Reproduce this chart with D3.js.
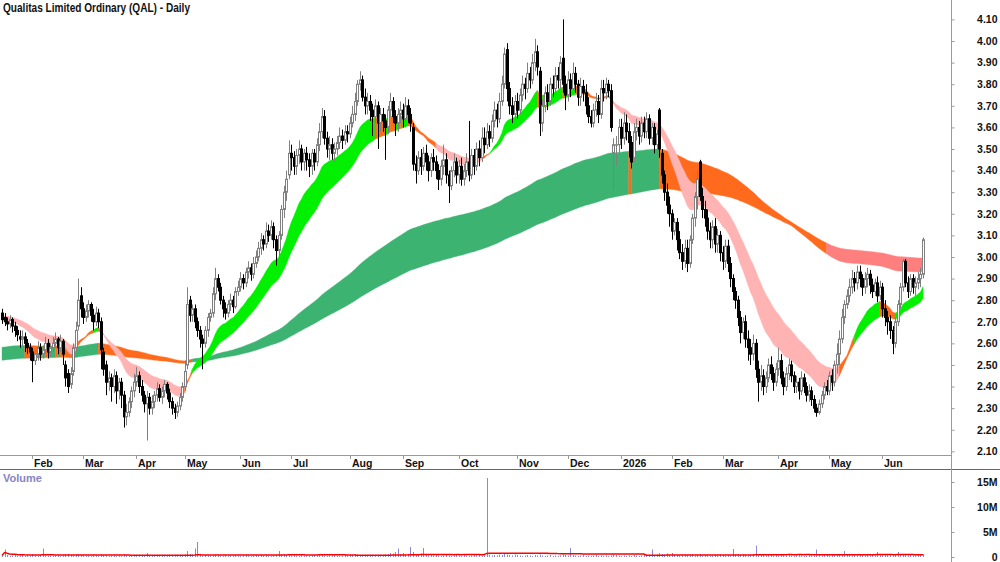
<!DOCTYPE html>
<html><head><meta charset="utf-8">
<script src="https://cdn.jsdelivr.net/npm/d3@7"></script>
<style>body{margin:0;background:#fff}svg{display:block}text{font-family:"Liberation Sans",Arial,sans-serif;font-weight:bold}</style>
</head><body><svg id="c" width="1000" height="562"></svg>
<script>
const title = "Qualitas Limited Ordinary (QAL) - Daily";
const startDate = "2025-01-15", endDate = "2026-06-24";
const holidays = ["2025-01-27","2025-04-18","2025-04-21","2025-04-25","2025-06-09","2025-12-25","2025-12-26","2026-01-01","2026-01-26","2026-04-03","2026-04-06","2026-06-08"];
const priceTicks = ["2.10","2.20","2.30","2.40","2.50","2.60","2.70","2.80","2.90","3.00","3.10","3.20","3.30","3.40","3.50","3.60","3.70","3.80","3.90","4.00","4.10"];
const volTicks = [0, 5, 10, 15];
const volTickLabels = ["0","5M","10M","15M"];
const shortPeriods = [18,20,23,26,29,33];
const shortSeed = [2.70,2.705,2.71,2.715,2.72,2.73];
const longPeriods = [150,165,180,200,220,250];
const longSeed = [2.58,2.57,2.56,2.55,2.54,2.52];
const volMAPeriod = 63;

const opens = [
2.74,2.72,2.70,2.69,2.71,2.68,2.66,2.63,2.62,2.63,
2.60,2.58,2.56,2.52,2.55,2.58,2.55,2.57,2.60,2.56,
2.58,2.60,2.62,2.58,2.61,2.50,2.46,2.41,2.47,2.58,
2.68,2.82,2.76,2.72,2.75,2.78,2.73,2.70,2.74,2.70,
2.56,2.50,2.42,2.44,2.40,2.45,2.38,2.42,2.36,2.26,
2.28,2.33,2.38,2.42,2.45,2.40,2.36,2.32,2.35,2.30,
2.33,2.36,2.39,2.35,2.38,2.41,2.37,2.33,2.30,2.28,
2.31,2.35,2.40,2.50,2.80,2.73,2.76,2.70,2.66,2.62,
2.60,2.66,2.72,2.74,2.83,2.90,2.86,2.80,2.76,2.74,
2.78,2.80,2.77,2.84,2.86,2.90,2.88,2.93,2.95,2.92,
2.97,3.00,3.04,3.08,3.06,3.12,3.10,3.14,3.08,3.03,
3.10,3.22,3.30,3.38,3.48,3.46,3.42,3.47,3.50,3.44,
3.48,3.45,3.42,3.48,3.44,3.52,3.58,3.65,3.55,3.50,
3.52,3.48,3.50,3.53,3.56,3.54,3.58,3.57,3.62,3.66,
3.72,3.80,3.82,3.74,3.70,3.72,3.68,3.65,3.70,3.62,
3.66,3.63,3.60,3.68,3.72,3.65,3.62,3.66,3.68,3.64,
3.70,3.66,3.60,3.43,3.40,3.46,3.42,3.48,3.44,3.40,
3.46,3.44,3.40,3.36,3.42,3.45,3.38,3.33,3.40,3.44,
3.38,3.42,3.36,3.40,3.44,3.38,3.47,3.42,3.50,3.46,
3.55,3.52,3.58,3.55,3.63,3.68,3.64,3.72,3.80,3.96,
3.78,3.70,3.66,3.72,3.68,3.75,3.80,3.78,3.85,3.82,
3.90,3.95,3.86,3.62,3.70,3.76,3.72,3.80,3.78,3.84,
3.82,3.92,3.80,3.75,3.82,3.78,3.85,3.80,3.74,3.79,
3.76,3.70,3.65,3.62,3.68,3.72,3.66,3.78,3.76,3.80,
3.77,3.48,3.52,3.52,3.60,3.55,3.62,3.58,3.53,3.46,
3.58,3.60,3.56,3.62,3.58,3.64,3.55,3.60,3.52,3.68,
3.48,3.38,3.30,3.24,3.20,3.12,3.16,3.08,3.02,2.98,
3.04,2.97,3.08,3.18,3.28,3.44,3.28,3.22,3.18,3.12,
3.08,3.14,3.06,3.10,3.02,2.98,3.05,2.97,2.90,2.84,
2.80,2.72,2.65,2.70,2.62,2.58,2.55,2.60,2.48,2.42,
2.45,2.40,2.44,2.50,2.46,2.42,2.48,2.52,2.44,2.40,
2.46,2.50,2.45,2.40,2.42,2.38,2.44,2.40,2.36,2.38,
2.34,2.30,2.28,2.32,2.36,2.40,2.38,2.45,2.42,2.50,
2.55,2.62,2.72,2.78,2.82,2.86,2.90,2.88,2.93,2.90,
2.86,2.90,2.92,2.87,2.84,2.88,2.82,2.86,2.76,2.72,
2.70,2.66,2.60,2.70,2.78,2.86,2.98,2.88,2.84,2.90,
2.86,2.88,2.90,2.92];

const highs = [
2.76,2.74,2.72,2.73,2.72,2.70,2.68,2.66,2.66,2.65,
2.62,2.60,2.58,2.57,2.61,2.60,2.59,2.63,2.62,2.60,
2.63,2.65,2.63,2.64,2.62,2.52,2.48,2.49,2.60,2.70,
2.90,2.86,2.79,2.78,2.80,2.79,2.76,2.77,2.76,2.72,
2.58,2.52,2.47,2.46,2.48,2.47,2.44,2.44,2.38,2.32,
2.35,2.40,2.46,2.49,2.47,2.43,2.38,2.38,2.37,2.36,
2.38,2.42,2.41,2.40,2.43,2.42,2.39,2.35,2.32,2.33,
2.37,2.42,2.52,2.86,2.82,2.78,2.78,2.72,2.68,2.64,
2.68,2.74,2.76,2.86,2.95,2.92,2.88,2.82,2.79,2.80,
2.83,2.82,2.86,2.89,2.93,2.92,2.95,2.98,2.97,3.00,
3.03,3.07,3.11,3.10,3.16,3.15,3.17,3.16,3.10,3.12,
3.24,3.33,3.40,3.54,3.52,3.49,3.50,3.54,3.52,3.50,
3.51,3.48,3.50,3.50,3.55,3.62,3.69,3.68,3.58,3.56,
3.55,3.53,3.56,3.60,3.59,3.61,3.61,3.65,3.70,3.76,
3.82,3.86,3.84,3.78,3.76,3.75,3.71,3.73,3.72,3.69,
3.69,3.66,3.70,3.76,3.74,3.68,3.69,3.72,3.71,3.74,
3.73,3.69,3.62,3.47,3.49,3.50,3.51,3.52,3.47,3.48,
3.50,3.47,3.43,3.45,3.52,3.48,3.40,3.42,3.48,3.46,
3.45,3.46,3.43,3.48,3.63,3.50,3.50,3.53,3.54,3.60,
3.60,3.62,3.61,3.66,3.72,3.71,3.76,3.84,3.97,3.99,
3.81,3.74,3.75,3.76,3.78,3.84,3.83,3.90,3.88,3.94,
4.01,3.98,3.88,3.73,3.79,3.80,3.83,3.84,3.88,3.88,
3.93,4.10,3.84,3.86,3.85,3.90,3.88,3.82,3.83,3.82,
3.80,3.74,3.68,3.71,3.76,3.75,3.82,3.82,3.83,3.82,
3.80,3.55,3.56,3.64,3.64,3.67,3.66,3.62,3.56,3.62,
3.64,3.63,3.65,3.65,3.67,3.66,3.62,3.62,3.59,3.69,
3.50,3.40,3.34,3.28,3.22,3.18,3.18,3.12,3.06,3.08,
3.08,3.10,3.20,3.30,3.40,3.45,3.32,3.26,3.22,3.16,
3.17,3.18,3.13,3.12,3.05,3.08,3.08,3.00,2.92,2.86,
2.82,2.75,2.72,2.73,2.66,2.62,2.64,2.62,2.52,2.50,
2.48,2.47,2.53,2.54,2.49,2.51,2.58,2.55,2.47,2.49,
2.53,2.52,2.47,2.45,2.44,2.47,2.46,2.42,2.41,2.40,
2.36,2.32,2.34,2.38,2.42,2.43,2.47,2.48,2.52,2.60,
2.66,2.76,2.80,2.85,2.90,2.94,2.93,2.96,2.96,2.92,
2.93,2.95,2.94,2.90,2.90,2.91,2.89,2.88,2.80,2.75,
2.73,2.68,2.72,2.80,2.88,2.99,2.99,2.91,2.92,2.92,
2.91,2.93,2.95,3.09];

const lows = [
2.69,2.68,2.66,2.67,2.65,2.63,2.61,2.58,2.59,2.56,
2.55,2.52,2.42,2.50,2.52,2.52,2.53,2.55,2.53,2.54,
2.56,2.58,2.55,2.56,2.50,2.40,2.37,2.39,2.45,2.56,
2.66,2.72,2.69,2.70,2.72,2.70,2.66,2.68,2.67,2.48,
2.45,2.36,2.38,2.33,2.37,2.32,2.34,2.30,2.21,2.22,
2.26,2.30,2.35,2.40,2.37,2.33,2.28,2.15,2.27,2.27,
2.30,2.33,2.33,2.32,2.35,2.34,2.30,2.27,2.25,2.26,
2.29,2.33,2.38,2.48,2.70,2.70,2.67,2.63,2.58,2.48,
2.58,2.63,2.70,2.72,2.80,2.84,2.78,2.72,2.71,2.72,
2.75,2.74,2.76,2.82,2.84,2.85,2.86,2.90,2.89,2.90,
2.95,2.98,3.01,3.03,3.04,3.07,3.08,3.04,2.96,3.00,
3.08,3.18,3.26,3.36,3.40,3.38,3.38,3.43,3.40,3.40,
3.40,3.37,3.38,3.40,3.42,3.49,3.55,3.52,3.46,3.45,
3.45,3.44,3.47,3.50,3.50,3.52,3.53,3.55,3.60,3.63,
3.70,3.77,3.72,3.66,3.66,3.63,3.56,3.62,3.50,3.58,
3.58,3.45,3.57,3.65,3.62,3.56,3.58,3.62,3.60,3.60,
3.62,3.58,3.40,3.34,3.38,3.38,3.40,3.40,3.35,3.37,
3.40,3.36,3.31,3.33,3.38,3.34,3.25,3.31,3.37,3.34,
3.34,3.33,3.33,3.37,3.35,3.36,3.38,3.40,3.42,3.44,
3.48,3.50,3.51,3.53,3.60,3.60,3.62,3.70,3.78,3.72,
3.66,3.62,3.63,3.64,3.66,3.72,3.73,3.76,3.78,3.80,
3.86,3.84,3.56,3.58,3.67,3.68,3.70,3.74,3.75,3.78,
3.78,3.76,3.68,3.72,3.74,3.76,3.76,3.70,3.70,3.72,
3.66,3.62,3.60,3.60,3.65,3.62,3.64,3.72,3.73,3.74,
3.58,3.31,3.42,3.48,3.50,3.52,3.54,3.46,3.41,3.44,
3.54,3.52,3.53,3.55,3.55,3.52,3.52,3.48,3.47,3.46,
3.34,3.26,3.20,3.14,3.08,3.10,3.03,2.99,2.94,2.95,
2.93,2.95,3.06,3.14,3.22,3.26,3.18,3.14,3.08,3.04,
3.04,3.02,3.02,2.98,2.94,2.95,2.93,2.86,2.80,2.76,
2.68,2.60,2.62,2.58,2.52,2.50,2.52,2.44,2.33,2.38,
2.36,2.37,2.42,2.43,2.38,2.40,2.45,2.41,2.36,2.38,
2.43,2.42,2.37,2.37,2.34,2.36,2.37,2.33,2.33,2.31,
2.28,2.26,2.27,2.30,2.34,2.36,2.36,2.38,2.40,2.46,
2.50,2.60,2.69,2.76,2.79,2.83,2.84,2.85,2.86,2.82,
2.83,2.86,2.83,2.81,2.82,2.79,2.80,2.72,2.68,2.64,
2.62,2.55,2.58,2.68,2.76,2.84,2.86,2.81,2.82,2.83,
2.82,2.85,2.86,2.90];

const closes = [
2.71,2.70,2.69,2.71,2.68,2.66,2.64,2.62,2.63,2.60,
2.58,2.56,2.52,2.55,2.58,2.55,2.57,2.60,2.56,2.58,
2.60,2.62,2.58,2.61,2.55,2.44,2.40,2.46,2.58,2.66,
2.80,2.76,2.72,2.75,2.78,2.73,2.70,2.74,2.70,2.57,
2.48,2.42,2.44,2.40,2.45,2.38,2.42,2.36,2.26,2.28,
2.33,2.38,2.42,2.45,2.40,2.36,2.32,2.35,2.30,2.33,
2.36,2.39,2.35,2.38,2.41,2.37,2.33,2.30,2.28,2.31,
2.35,2.40,2.47,2.78,2.73,2.76,2.70,2.66,2.62,2.60,
2.66,2.72,2.74,2.83,2.90,2.86,2.80,2.76,2.74,2.78,
2.80,2.77,2.84,2.86,2.90,2.88,2.93,2.95,2.92,2.97,
3.00,3.04,3.08,3.06,3.12,3.10,3.14,3.08,3.03,3.10,
3.22,3.30,3.36,3.48,3.46,3.42,3.47,3.50,3.44,3.48,
3.45,3.42,3.48,3.44,3.52,3.58,3.65,3.55,3.50,3.52,
3.48,3.50,3.53,3.56,3.54,3.58,3.57,3.62,3.66,3.72,
3.80,3.82,3.74,3.70,3.72,3.68,3.65,3.70,3.62,3.66,
3.63,3.60,3.68,3.72,3.65,3.62,3.66,3.68,3.64,3.70,
3.66,3.62,3.43,3.40,3.46,3.42,3.48,3.44,3.40,3.46,
3.44,3.40,3.36,3.42,3.45,3.38,3.33,3.40,3.44,3.38,
3.42,3.36,3.40,3.44,3.38,3.47,3.42,3.50,3.46,3.55,
3.52,3.58,3.55,3.63,3.68,3.64,3.72,3.80,3.94,3.78,
3.70,3.66,3.72,3.68,3.75,3.80,3.78,3.85,3.82,3.90,
3.95,3.88,3.62,3.70,3.76,3.72,3.80,3.78,3.84,3.82,
3.90,3.80,3.75,3.82,3.78,3.85,3.80,3.74,3.79,3.76,
3.70,3.65,3.62,3.68,3.72,3.66,3.78,3.76,3.80,3.77,
3.60,3.52,3.52,3.60,3.55,3.62,3.58,3.53,3.44,3.58,
3.60,3.56,3.62,3.58,3.64,3.55,3.60,3.52,3.57,3.50,
3.38,3.30,3.24,3.20,3.12,3.16,3.08,3.02,2.98,3.04,
2.97,3.08,3.18,3.28,3.36,3.28,3.22,3.18,3.12,3.08,
3.14,3.06,3.10,3.02,2.98,3.05,2.97,2.90,2.84,2.80,
2.72,2.65,2.70,2.62,2.58,2.55,2.60,2.48,2.42,2.45,
2.40,2.44,2.50,2.46,2.42,2.48,2.52,2.44,2.40,2.46,
2.50,2.45,2.40,2.42,2.38,2.44,2.40,2.36,2.38,2.34,
2.30,2.28,2.32,2.36,2.40,2.38,2.45,2.42,2.50,2.55,
2.62,2.72,2.78,2.82,2.86,2.90,2.88,2.93,2.90,2.86,
2.90,2.92,2.87,2.84,2.88,2.82,2.86,2.76,2.72,2.70,
2.66,2.60,2.70,2.78,2.86,2.98,2.88,2.84,2.90,2.86,
2.88,2.90,2.92,3.08];

// volume in millions
const volumes = [
0.3,1.5,0.4,0.2,0.3,0.5,0.2,0.3,0.4,0.2,
0.3,0.2,0.6,0.3,0.2,0.4,1.7,0.3,0.2,0.3,
0.2,0.3,0.4,0.2,0.3,0.5,0.6,0.4,0.3,0.5,
0.6,0.4,0.3,0.2,0.3,0.2,0.4,0.3,0.2,0.5,
0.4,0.3,0.2,0.3,0.4,0.2,0.3,0.2,0.5,0.3,
0.2,0.3,0.2,0.4,0.3,0.2,0.3,0.8,0.3,0.2,
0.2,0.3,0.2,0.2,0.4,0.3,0.2,0.3,0.2,0.3,
0.3,0.4,0.5,1.2,0.6,0.5,1.7,3.0,0.4,0.3,
0.4,0.3,0.2,0.3,0.5,0.4,0.3,0.2,0.3,0.2,
0.3,0.2,0.4,0.3,0.2,0.3,0.4,0.3,0.2,0.3,
0.4,0.3,0.5,0.3,0.4,0.3,0.2,0.3,0.4,1.2,
0.5,0.6,0.4,0.5,0.3,0.4,0.3,0.2,0.4,0.3,
0.3,0.2,0.3,0.4,0.3,0.5,0.4,0.3,0.2,0.3,
0.3,0.4,0.3,0.2,0.3,0.4,0.3,0.5,0.4,0.6,
0.5,0.4,0.3,0.4,0.3,0.2,0.3,0.4,0.3,0.2,
0.3,0.5,0.6,0.8,0.7,1.0,1.7,0.6,0.8,0.5,
0.6,2.0,1.0,0.6,0.5,0.7,1.8,0.4,0.3,0.4,
0.3,0.4,0.3,0.2,0.3,0.4,0.3,0.2,0.3,0.4,
0.3,0.2,0.4,0.3,0.2,0.3,0.4,0.3,0.5,0.3,
0.4,15.8,0.5,0.3,0.4,0.3,0.5,0.4,0.6,0.5,
0.4,0.3,0.5,0.4,0.3,0.2,0.3,0.4,0.3,0.2,
0.4,0.3,0.5,0.3,0.2,0.3,0.4,0.2,0.3,0.2,
0.3,0.5,0.4,0.3,1.8,0.4,0.3,0.2,0.3,0.4,
0.2,0.3,0.2,0.3,0.4,0.2,0.3,0.2,0.3,0.2,
0.3,0.5,0.4,0.3,0.2,0.3,0.2,0.3,0.2,0.4,
0.3,0.2,0.3,0.4,0.2,0.3,1.5,0.4,0.5,0.8,
0.6,0.5,0.7,0.4,0.8,0.5,0.4,0.3,0.5,0.4,
0.3,0.4,0.5,0.3,0.4,0.6,0.3,0.4,0.3,0.2,
0.3,0.4,0.3,0.5,0.4,0.3,0.4,0.3,1.6,0.5,
0.6,0.4,0.5,0.4,0.3,0.5,0.6,2.3,0.5,0.4,
0.4,0.3,0.5,0.4,0.3,0.4,0.3,0.5,0.4,0.3,
0.4,0.3,0.2,0.3,0.4,0.3,0.2,0.3,0.4,0.3,
0.3,1.5,0.4,0.3,0.5,0.4,0.3,0.4,0.5,0.6,
0.6,0.5,1.2,0.4,0.5,0.3,0.4,0.3,0.5,0.4,
0.3,0.4,0.3,0.5,0.3,1.0,0.4,0.6,0.5,0.4,
0.5,0.6,0.4,1.0,0.5,0.6,0.4,0.3,0.4,0.3,
0.3,0.4,0.5,0.6];

// ---------- trading calendar ----------
const hol = new Set(holidays);
const allDates = [];
for (let d = new Date(startDate + "T00:00:00Z"); d <= new Date(endDate + "T00:00:00Z"); d.setUTCDate(d.getUTCDate() + 1)) {
  const wd = d.getUTCDay(), s = d.toISOString().slice(0, 10);
  if (wd > 0 && wd < 6 && !hol.has(s)) allDates.push(s);
}
const n = Math.min(allDates.length, opens.length, highs.length, lows.length, closes.length, volumes.length);
const dates = allDates.slice(0, n);
const idx = d3.range(n);

const svg = d3.select("#c");
const x = d3.scalePoint().domain(dates).range([2, 923]);
const y = d3.scaleLinear().domain([2.083, 4.19]).range([455, 0]);
const yv = d3.scaleLinear().domain([0, 17.6]).range([557, 469]);
const px = i => Math.round(x(dates[i]));

// ---------- moving average ribbons ----------
function ema(vals, p, seed) { const a = 2 / (p + 1); let e = seed; return vals.map(v => (e = e + a * (v - e))); }
function ribbon(periods, seeds) {
  const lines = periods.map((p, k) => ema(closes.slice(0, n), p, seeds[k]));
  return idx.map(i => {
    const v = lines.map(l => l[i]);
    let bull = true, bear = true;
    for (let k = 0; k < v.length - 1; k++) { if (!(v[k] > v[k + 1])) bull = false; if (!(v[k] < v[k + 1])) bear = false; }
    const fastUp = i === 0 ? true : lines[0][i] >= lines[0][i - 1];
    return { i, lo: d3.min(v), hi: d3.max(v), s: (bull && fastUp) ? "bull" : bear ? "bear" : "mix" };
  });
}
function drawRibbon(rb, colors) {
  const g = svg.append("g");
  const area = d3.area().x(d => x(dates[d.i])).y0(d => y(d.lo)).y1(d => y(d.hi));
  let start = 0;
  for (let i = 1; i <= n; i++) {
    if (i === n || rb[i].s !== rb[start].s) {
      const seg = rb.slice(Math.max(0, start - 1), i);
      g.append("path").attr("d", area(seg)).attr("fill", colors[rb[start].s])
        .attr("stroke", colors[rb[start].s]).attr("stroke-width", 0.4);
      start = i;
    }
  }
}
drawRibbon(ribbon(longPeriods, longSeed), { bull: "#3cb371", mix: "#ff6a1c", bear: "#ff7f7f" });
drawRibbon(ribbon(shortPeriods, shortSeed), { bull: "#00f000", mix: "#ff6a1c", bear: "#ffb3b3" });

// ---------- candles ----------
const cg = svg.append("g");
const up = i => closes[i] >= opens[i];
cg.selectAll("line.w").data(idx).join("line").attr("class", "w")
  .attr("x1", i => px(i) + 0.5).attr("x2", i => px(i) + 0.5)
  .attr("y1", i => y(highs[i])).attr("y2", i => y(lows[i]))
  .attr("stroke", i => up(i) ? "#808080" : "#000").attr("stroke-width", 1);
cg.selectAll("rect.b").data(idx).join("rect").attr("class", "b")
  .attr("x", i => px(i) - 0.5).attr("width", 2)
  .attr("y", i => y(Math.max(opens[i], closes[i])))
  .attr("height", i => Math.max(0.5, y(Math.min(opens[i], closes[i])) - y(Math.max(opens[i], closes[i]))))
  .attr("fill", i => up(i) ? "#fff" : "#000")
  .attr("stroke", i => up(i) ? "#808080" : "#000").attr("stroke-width", 1);

// ---------- volume ----------
svg.append("g").selectAll("line").data(idx).join("line")
  .attr("x1", i => px(i) + 0.5).attr("x2", i => px(i) + 0.5)
  .attr("y1", yv(0)).attr("y2", i => yv(volumes[i]))
  .attr("stroke", "#8a8ad2").attr("stroke-width", 1);
const volMA = idx.map(i => d3.mean(volumes.slice(Math.max(0, i - volMAPeriod + 1), i + 1)));
svg.append("path").attr("d", d3.line().x(i => x(dates[i])).y(i => yv(volMA[i]))(idx))
  .attr("fill", "none").attr("stroke", "#ff0000").attr("stroke-width", 1.5);

// ---------- frame ----------
svg.append("line").attr("x1", 0).attr("x2", 951).attr("y1", 455.5).attr("y2", 455.5).attr("stroke", "#9a9a9a");
svg.append("line").attr("x1", 0).attr("x2", 1000).attr("y1", 469.5).attr("y2", 469.5).attr("stroke", "#666");
svg.append("line").attr("x1", 951.5).attr("x2", 951.5).attr("y1", 0).attr("y2", 562).attr("stroke", "#9a9a9a");

// ---------- right axes ----------
const ya = svg.append("g").attr("transform", "translate(951.5,0)")
  .call(d3.axisRight(y).tickValues(priceTicks.map(Number)).tickSize(3).tickFormat(d3.format(".2f")));
const va = svg.append("g").attr("transform", "translate(951.5,0)")
  .call(d3.axisRight(yv).tickValues(volTicks).tickSize(3).tickFormat((d, k) => volTickLabels[k]));
[ya, va].forEach(a => {
  a.select(".domain").remove();
  a.selectAll(".tick line").attr("stroke", "#9a9a9a");
  a.selectAll(".tick text").attr("x", 46).attr("text-anchor", "end")
    .attr("font-family", '"Liberation Sans", Arial, sans-serif').attr("font-weight", "bold")
    .attr("font-size", 10.5).attr("fill", "#111");
});

// ---------- month axis ----------
const fmt = d3.utcFormat("%b");
const monthStarts = idx.filter(i => i > 0 && dates[i].slice(5, 7) !== dates[i - 1].slice(5, 7));
const mg = svg.append("g");
mg.selectAll("line").data(monthStarts).join("line")
  .attr("x1", i => px(i) + 0.5).attr("x2", i => px(i) + 0.5).attr("y1", 455).attr("y2", 459).attr("stroke", "#9a9a9a");
mg.selectAll("text").data(monthStarts).join("text")
  .attr("x", i => px(i) + 2).attr("y", 466.5).attr("font-size", 10.5).attr("fill", "#111")
  .text(i => { const d = new Date(dates[i] + "T00:00:00Z"); return d.getUTCMonth() === 0 ? String(d.getUTCFullYear()) : fmt(d); });

// ---------- labels ----------
svg.append("text").attr("x", 3).attr("y", 12).attr("font-size", 12).attr("fill", "#111")
  .attr("textLength", 187).attr("lengthAdjust", "spacingAndGlyphs").text(title);
svg.append("text").attr("x", 3).attr("y", 482).attr("font-size", 11).attr("fill", "#8585c2").text("Volume");
</script></body></html>
